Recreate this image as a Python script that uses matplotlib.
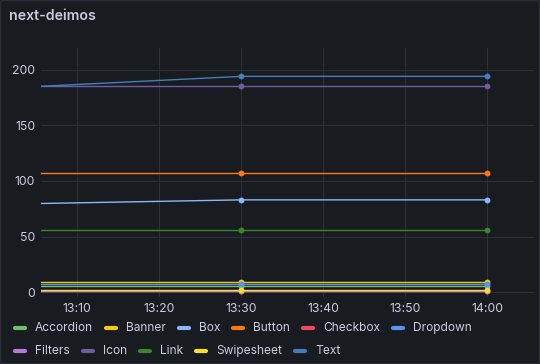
import matplotlib
matplotlib.use("Agg")
import matplotlib.pyplot as plt
import matplotlib.dates as mdates
from matplotlib.lines import Line2D
from matplotlib.patches import FancyBboxPatch
from datetime import datetime

plt.rcParams['font.family'] = ['Inter', 'DejaVu Sans']

# ---- data ----
times = [datetime(2024, 1, 1, 13, 0), datetime(2024, 1, 1, 13, 30), datetime(2024, 1, 1, 14, 0)]
series_names = ["Accordion", "Banner", "Box", "Button", "Checkbox", "Dropdown",
                "Filters", "Icon", "Link", "Swipesheet", "Text"]
accordion = [6, 6, 6]
banner = [9, 9, 9]
box = [79, 83, 83]
button = [107, 107, 107]
checkbox = [1, 1, 1]
dropdown = [7, 7, 7]
filters = [1, 1, 1]
icon = [185, 185, 185]
link = [56, 56, 56]
swipesheet = [2, 2, 2]
text = [183, 194, 194]
series_values = [accordion, banner, box, button, checkbox, dropdown,
                 filters, icon, link, swipesheet, text]
colors = ["#73BF69", "#F2CC0C", "#8AB8FF", "#FF780A", "#F2495C", "#5794F2",
          "#B877D9", "#705DA0", "#37872D", "#FADE2A", "#447EBC"]
title = "next-deimos"
y_ticks = [0, 50, 100, 150, 200]

W, H = 540, 364
BG = "#181b1f"
TXT = "#ccccdc"
GRID = "#2e3036"

fig = plt.figure(figsize=(W / 100, H / 100), dpi=100, facecolor=BG)

# panel border
fig.patches.append(FancyBboxPatch((0.5 / W, 0.5 / H), (W - 1) / W, (H - 1) / H,
                                  boxstyle="round,pad=0,rounding_size=0.005",
                                  transform=fig.transFigure, facecolor="none",
                                  edgecolor="#2a2d33", linewidth=1))

fig.text(9 / W, 1 - 16 / H, title, color=TXT, fontsize=10.2, fontweight="semibold",
         ha="left", va="center")

left, right, top, bottom = 41, 534, 48, 297
ax = fig.add_axes([left / W, 1 - bottom / H, (right - left) / W, (bottom - top) / H])
ax.set_facecolor(BG)

for name, vals, c in zip(series_names, series_values, colors):
    ax.plot(times, vals, color=c, linewidth=1.0, marker="o", markersize=4.2,
            markeredgewidth=0, label=name, clip_on=True)

ax.set_xlim(datetime(2024, 1, 1, 13, 5, 40), datetime(2024, 1, 1, 14, 5, 40))
ax.set_ylim(-4.3, 219.5)
ax.set_yticks(y_ticks)
ax.xaxis.set_major_locator(mdates.MinuteLocator(byminute=range(0, 60, 10)))
ax.xaxis.set_major_formatter(mdates.DateFormatter("%H:%M"))
ax.grid(True, color=GRID, linewidth=0.75)
ax.set_axisbelow(True)
for s in ax.spines.values():
    s.set_visible(False)
ax.tick_params(axis="both", length=0, colors=TXT, labelsize=8.8)
ax.tick_params(axis="y", pad=4.2)
ax.tick_params(axis="x", pad=4.0)

# ---- legend (manual flow layout) ----
fig.canvas.draw()
renderer = fig.canvas.get_renderer()
x = 13
row_y = [328, 351]
row = 0
for name, c in zip(series_names, colors):
    t = fig.text(0, 0, name, fontsize=8.6, color=TXT, ha="left", va="center")
    w = t.get_window_extent(renderer).width
    if x + 21 + w > 532:
        row += 1
        x = 13
    yy = 1 - row_y[row] / H
    fig.add_artist(Line2D([(x + 2) / W, (x + 12) / W], [yy, yy], transform=fig.transFigure,
                          color=c, linewidth=3.0, solid_capstyle="round"))
    t.set_position(((x + 22) / W, yy))
    x = x + 22 + w + 11

fig.savefig("out.png", dpi=100, facecolor=BG)
